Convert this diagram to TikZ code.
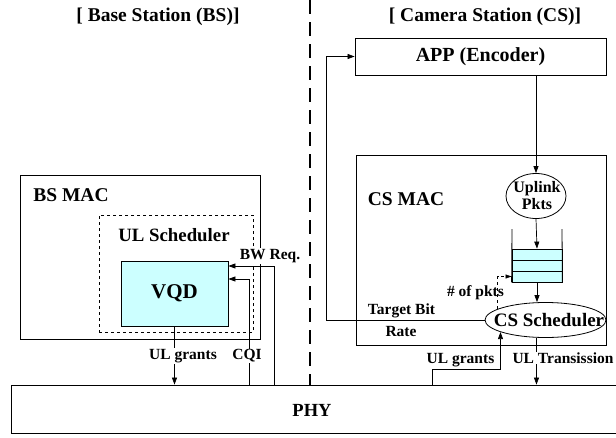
\documentclass[tikz,border=0pt]{standalone}
\usepackage{fontspec}
\setmainfont{Liberation Serif}
\usetikzlibrary{arrows.meta,shapes.geometric,calc}
\definecolor{qcyan}{HTML}{CCFFFF}
\begin{document}
\begin{tikzpicture}[x=1pt,y=-1pt,
  every node/.style={font=\bfseries},
  box/.style={draw,line width=0.8pt,inner sep=0pt,rectangle},
  big/.style={font=\bfseries\fontsize{19.5}{21}\selectfont},
  lbl/.style={inner sep=1pt,font=\bfseries\fontsize{15.5}{16}\selectfont},
  wlbl/.style={lbl,fill=white},
  arr/.style={line width=0.7pt,-{Triangle[length=7pt,width=5pt]}},
  oval/.style={draw,line width=0.8pt,ellipse,inner sep=0pt},
  cell/.style={draw,line width=0.8pt,fill=qcyan,minimum width=50pt,minimum height=11pt,inner sep=0pt}]
\useasboundingbox (0,0) rectangle (616,437);
\clip (0,0) rectangle (616,437);
% titles
\node[big] (t1) at (158,17) {[ Base Station (BS)]};
\node[big] (t2) at (485,17) {[ Camera Station (CS)]};
% divider
\coordinate (d1) at (310,0);
\coordinate (d2) at (310,385);
\draw[line width=2pt,dash pattern=on 14pt off 8pt] (d1) -- (d2);
% boxes
\node[box,big,font=\bfseries\fontsize{20}{21}\selectfont,minimum width=251pt,minimum height=37pt] (app) at (480.5,56.5) {APP (Encoder)};
\node[box,minimum width=250pt,minimum height=190pt] (csmac) at (481,250) {};
\node[box,minimum width=240pt,minimum height=164pt] (bsmac) at (140,257) {};
\node[box,dashed,minimum width=154pt,minimum height=117pt] (ulsch) at (176,273.5) {};
\node[box,fill=qcyan,minimum width=107pt,minimum height=65pt,font=\bfseries\fontsize{21}{22}\selectfont] (vqd) at (174.5,293.5) {VQD};
\node[box,minimum width=611pt,minimum height=48pt] (phy) at (316.5,409) {};
\node[font=\bfseries\fontsize{18.5}{20}\selectfont] (phyt) at (312,410) {PHY};
\node[big] (bsmact) at (71,195) {BS MAC};
\node[font=\bfseries\fontsize{18.8}{20}\selectfont] (ulscht) at (174,235) {UL Scheduler};
\node[big] (csmact) at (406,199) {CS MAC};
% CS internals
\node[oval,minimum width=60pt,minimum height=45pt] (up) at (536,196) {};
\node[align=center,inner sep=0pt,font=\bfseries\fontsize{16}{17}\selectfont] (upt) at (537,196) {Uplink\\Pkts};
\node[cell] (q1) at (537,254.5) {};
\node[cell] (q2) at (537,265.5) {};
\node[cell] (q3) at (537,276.5) {};
\coordinate (wl1) at (512,229);
\coordinate (wr1) at (562,229);
\draw[line width=0.8pt] (wl1) -- (q3.south west);
\draw[line width=0.8pt] (wr1) -- (q3.south east);
\node[oval,minimum width=121pt,minimum height=35pt] (css) at (545.5,320) {};
\node[font=\bfseries\fontsize{19}{20}\selectfont,inner sep=0pt] (csst) at (549,320) {CS Scheduler};
% CS connectors
\draw[arr] (app.south -| up.north) -- (up.north);
\draw[arr] (up.south) -- (q1.north);
\draw[arr] (q3.south) -- (q3.south |- css.north);
\draw[line width=0.5pt,dashed,-{Triangle[length=6pt,width=4pt]}] (css.167) |- (q3.west);
\node[lbl] (npk) at (475.5,293) {\# of pkts};
\coordinate (tbr) at (326,320);
\draw[arr] (css.west) -- (tbr) |- (app.west);
\node[lbl] (tb1) at (401.5,311) {Target Bit};
\node[lbl] (tb2) at (401,331) {Rate};
\coordinate (g1) at (432,385);
\coordinate (gy) at (0,369);
\draw[arr] (g1) |- (css.-165 |- gy) -- (css.-165);
\node[lbl] (ulg2) at (460.5,360) {UL grants};
\draw[arr] (css.-117) -- (css.-117 |- phy.north);
\node[wlbl] (ult) at (563,358) {UL Transission};
% BS connectors
\draw[arr] (vqd.south) -- (vqd.south |- phy.north);
\node[wlbl] (ulg1) at (183,356) {UL grants};
\coordinate (cq) at (249,385);
\coordinate (cqy) at (0,279);
\draw[arr] (cq) |- (vqd.east |- cqy);
\node[wlbl] (cqit) at (247,356) {CQI};
\coordinate (bw) at (274,385);
\coordinate (bwy) at (0,266);
\draw[arr] (bw) |- (vqd.east |- bwy);
\node[wlbl] (bwt) at (270,256) {BW Req.};
\end{tikzpicture}
\end{document}
